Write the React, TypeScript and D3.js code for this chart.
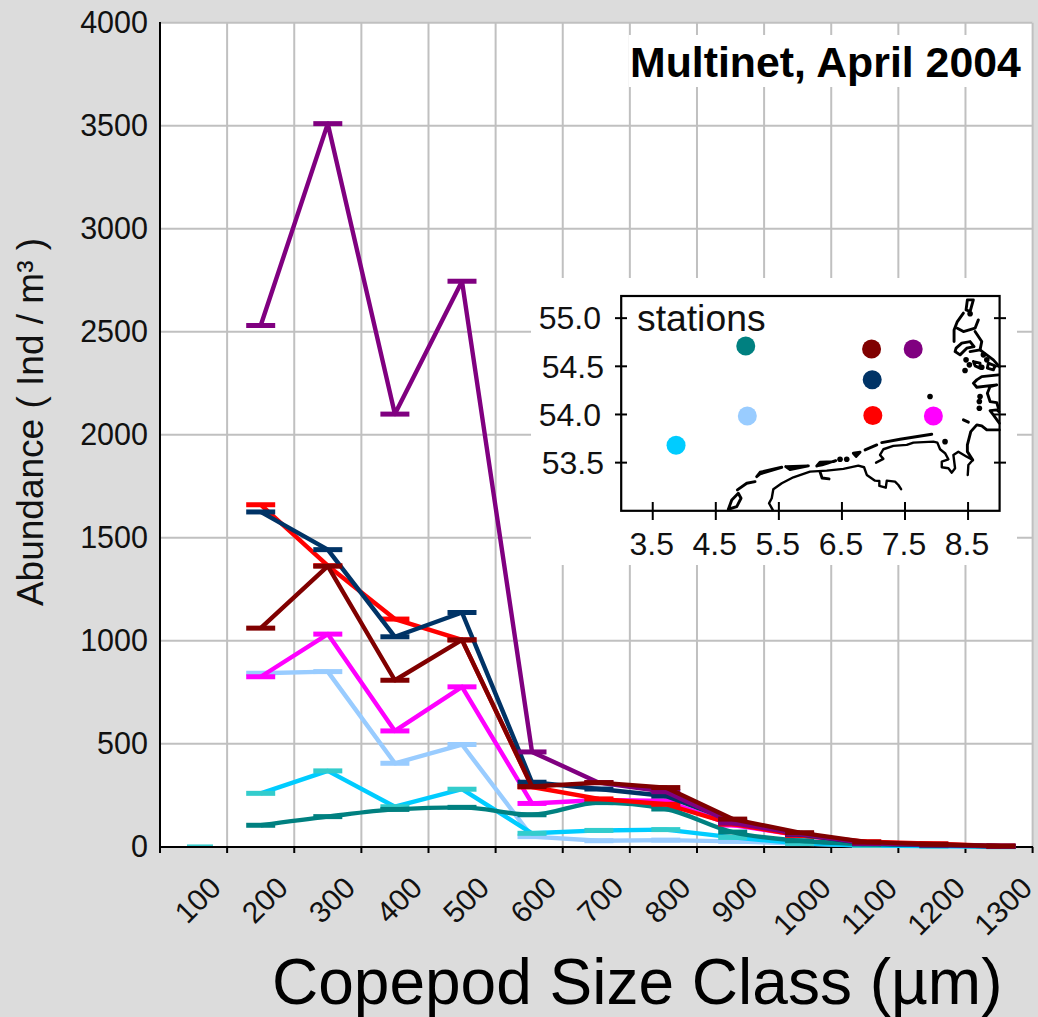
import React from "react";
import * as d3 from "d3";

const W = 1038, H = 1017;
const sizeClasses = ["100","200","300","400","500","600","700","800","900","1000","1100","1200","1300"];
const yTicks = [0,500,1000,1500,2000,2500,3000,3500,4000];

const lightBlue = [0,842,850,405,496,49,29,32,26,15,6,3,1];
const cyanS = [0,259,368,194,279,65,79,83,45,16,6,3,0];
const magentaS = [0,825,1032,562,776,210,227,222,105,55,18,8,2];
const tealS = [0,104,146,181,191,155,214,183,71,29,13,7,1];
const redS = [0,1660,1364,1105,1004,290,232,206,110,55,24,14,3];
const navyS = [0,1625,1442,1019,1137,313,280,246,125,60,15,8,2];
const purpleS = [0,2530,3510,2100,2745,460,311,267,115,62,16,9,2];
const maroonS = [0,1061,1362,808,1004,292,311,287,134,68,22,12,3];

const series = [
  { name: "lb", values: lightBlue, color: "#99CCFF", cap: "#99CCFF" },
  { name: "cy", values: cyanS, color: "#00CCFF", cap: "#33CCCC" },
  { name: "ma", values: magentaS, color: "#FF00FF", cap: "#FF00FF" },
  { name: "te", values: tealS, color: "#008080", cap: "#008080", smooth: true },
  { name: "re", values: redS, color: "#FF0000", cap: "#FF0000" },
  { name: "na", values: navyS, color: "#003366", cap: "#003366" },
  { name: "pu", values: purpleS, color: "#800080", cap: "#800080" },
  { name: "mr", values: maroonS, color: "#800000", cap: "#800000" },
];

const stationLon = [4.975,6.97,7.63,6.98,5.0,6.99,7.95,3.87];
const stationLat = [54.71,54.68,54.68,54.36,53.985,53.99,53.985,53.68];
const stationColor = ["#008080","#800000","#800080","#003366","#99CCFF","#FF0000","#FF00FF","#00CCFF"];
const lonTicks = [3.5,4.5,5.5,6.5,7.5,8.5];
const latTicks = [53.5,54.0,54.5,55.0];

type P = [number, number];
const coastLines: P[][] = [
  [[5.403,53.009],[5.344,53.078],[5.387,53.13],[5.412,53.224],[5.546,53.286],[5.73,53.348],[5.994,53.407],[6.259,53.417],[6.523,53.435],[6.76,53.469],[6.851,53.452],[6.894,53.372],[7.025,53.313],[7.093,53.31],[7.093,53.258],[7.195,53.24],[7.211,53.313],[7.342,53.303],[7.395,53.268],[7.438,53.224]],
  [[7.041,53.5],[7.157,53.539],[7.104,53.58],[7.157,53.639],[7.315,53.674],[7.528,53.684],[7.633,53.708],[7.95,53.718],[8.013,53.708],[8.056,53.639],[8.135,53.598],[8.188,53.535],[8.083,53.51],[8.083,53.452],[8.188,53.442],[8.242,53.396],[8.294,53.442],[8.267,53.58],[8.346,53.614],[8.479,53.562],[8.575,53.528],[8.505,53.476],[8.495,53.372]],
  [[8.575,53.528],[8.489,53.614],[8.489,53.684],[8.543,53.822],[8.638,53.892],[8.717,53.881],[8.797,53.84],[8.996,53.84]],
  [[8.996,53.909],[8.901,53.996],[8.849,54.04],[8.955,54.048],[8.99,54.03]],
  [[8.981,54.065],[8.955,54.123],[8.849,54.134],[8.806,54.221],[8.849,54.29],[8.955,54.307],[8.638,54.283],[8.584,54.325],[8.638,54.359],[8.717,54.393],[8.981,54.411]],
  [[8.489,55.19],[8.584,55.19],[8.532,55.069],[8.468,55.086],[8.489,55.19]],
  [[8.426,55.052],[8.33,54.965],[8.278,54.878],[8.278,54.757]],
  [[8.33,54.896],[8.426,54.861],[8.611,54.896],[8.663,54.982]],
  [[8.31,54.688],[8.4,54.74],[8.532,54.757],[8.595,54.705],[8.479,54.688],[8.373,54.619],[8.294,54.653],[8.31,54.688]],
  [[8.611,54.861],[8.717,54.757],[8.69,54.671],[8.532,54.653]],
  [[8.69,54.671],[8.901,54.567],[8.996,54.497]],
  [[8.584,54.549],[8.69,54.533],[8.69,54.481],[8.611,54.505],[8.584,54.549]],
  [[8.822,54.533],[8.928,54.505],[8.901,54.463],[8.806,54.481],[8.822,54.533]],
  [[4.699,53.016],[4.753,53.113],[4.857,53.182],[4.9,53.13],[4.832,53.043],[4.699,53.016]],
  [[4.842,53.217],[4.991,53.286],[5.122,53.303]],
  [[5.149,53.355],[5.202,53.4],[5.546,53.452],[5.202,53.383],[5.149,53.355]],
  [[5.609,53.459],[5.968,53.466],[5.677,53.429],[5.609,53.459]],
  [[6.101,53.466],[6.153,53.504],[6.364,53.51],[6.402,53.521],[6.185,53.477],[6.101,53.466]],
  [[6.681,53.598],[6.787,53.608],[6.724,53.565],[6.681,53.598]],
  [[6.867,53.632],[7.052,53.684]],
  [[7.131,53.708],[7.422,53.743],[7.924,53.795]],
  [[6.153,53.404],[6.185,53.341],[6.296,53.331]],
  [[8.426,53.944],[8.505,53.92]],
];
const coastDots: P[] = [
  [8.468,54.567],[8.452,54.456],[8.521,54.515],[8.743,54.619],[8.797,54.567],[8.717,54.491],
  [8.69,54.186],[8.679,54.134],[8.679,54.065],[7.897,54.186],[8.135,53.718],[6.47,53.535],[6.576,53.535],[8.532,55.045],
];

const band = d3.scaleBand<string>().domain(sizeClasses).range([160, 1032.6]).paddingInner(0).paddingOuter(0);
const yScale = d3.scaleLinear().domain([0, 4000]).range([846.7, 22.7]);
const lonScale = d3.scaleLinear().domain([3, 9]).range([621.2, 999.6]);
const latScale = d3.scaleLinear().domain([53, 55.23]).range([510.8, 296]);
// marks sit slightly off the band centres in the reference: piecewise scale over category index
const markX = d3.scaleLinear().domain([0, 1, 4, 5, 9, 12]).range([200, 260.7, 462, 532, 799.6, 1001]);
const bandCenter = (i: number) => (band(sizeClasses[i]) as number) + band.bandwidth() / 2;
const tickXs = [...sizeClasses.map((c) => band(c) as number), 1032.6];

const lineOf = d3.line<number>().x((_, i) => markX(i + 1)).y((v) => yScale(v));
const smoothOf = d3.line<number>().x((_, i) => markX(i + 1)).y((v) => yScale(v)).curve(d3.curveMonotoneX);
const coastPath = d3.line<P>().x((p) => lonScale(p[0])).y((p) => latScale(p[1]));

const grey = "#C0C0C0";
const font = "'Liberation Sans', Arial, sans-serif";

export default function App() {
  return (
    <svg width={W} height={H} viewBox={`0 0 ${W} ${H}`} style={{ position: "absolute", left: 0, top: 0, display: "block" }} fontFamily={font}>
      <rect width={W} height={H} fill="#DCDCDC" />
      <rect x={160} y={22} width={873} height={825} fill="#fff" />
      {yTicks.slice(1).map((t) => (
        <line key={t} x1={160} x2={1032.6} y1={yScale(t)} y2={yScale(t)} stroke={grey} strokeWidth={2} />
      ))}
      {tickXs.slice(1).map((x) => (
        <line key={x} x1={x} x2={x} y1={22.7} y2={846.7} stroke={grey} strokeWidth={2} />
      ))}
      {/* title box */}
      <rect x={629} y={35} width={392} height={52} fill="#fff" />
      <text x={630} y={77} fontSize={42.8} fontWeight={700}>Multinet, April 2004</text>

      {/* axes */}
      <line x1={160} x2={160} y1={22} y2={848} stroke="#000" strokeWidth={2} />
      <line x1={159} x2={1033} y1={847} y2={847} stroke="#000" strokeWidth={2} />
      {tickXs.map((x) => (
        <line key={x} x1={x} x2={x} y1={847} y2={853} stroke="#000" strokeWidth={2} />
      ))}

      {/* series */}
      {series.map((s) => (
        <g key={s.name}>
          <path d={(s.smooth ? smoothOf : lineOf)(s.values.slice(1)) as string} fill="none" stroke={s.color} strokeWidth={4.4} strokeLinejoin="round" />
          {s.values.map((v, i) => i === 0 ? null : (
            <line key={i} x1={markX(i) - 14.5} x2={markX(i) + 14.5} y1={yScale(v)} y2={yScale(v)} stroke={s.cap} strokeWidth={5} />
          ))}
        </g>
      ))}
      <line x1={markX(0) - 13} x2={markX(0) + 13} y1={yScale(cyanS[0]) - 1.5} y2={yScale(cyanS[0]) - 1.5} stroke="#33CCCC" strokeWidth={1.5} />

      {yTicks.map((t) => (
        <text key={t} x={148} y={yScale(t)} dy="0.35em" textAnchor="end" fontSize={30.5} fill="#111">{t}</text>
      ))}
      {sizeClasses.map((c, i) => (
        <text key={c} textAnchor="middle" fontSize={30} fill="#111"
          transform={`translate(${bandCenter(i) + 4},${c.length === 3 ? 900 : 906}) rotate(-45)`} dy="0.35em">{c}</text>
      ))}
      <text transform="translate(43,422) rotate(-90)" textAnchor="middle" fontSize={37} fill="#111">Abundance ( Ind / m³ )</text>
      <text x={272} y={1004} fontSize={64} fill="#000">Copepod Size Class (µm)</text>

      {/* inset */}
      <rect x={531} y={278} width={486} height={287} fill="#fff" />
      <rect x={621.2} y={296} width={378.4} height={214.8} fill="#fff" stroke="#000" strokeWidth={2.2} />
      {coastLines.map((c, i) => (
        <path key={i} d={coastPath(c) as string} fill="none" stroke="#000" strokeWidth={i < 2 ? 2.4 : 2.9} strokeLinejoin="round" strokeLinecap="round" />
      ))}
      {coastDots.map((p, i) => (
        <circle key={i} cx={lonScale(p[0])} cy={latScale(p[1])} r={2.8} fill="#000" />
      ))}
      {lonTicks.map((t) => (
        <g key={t}>
          <line x1={lonScale(t)} x2={lonScale(t)} y1={502} y2={520} stroke="#000" strokeWidth={2} />
          <text x={lonScale(t) - 1} y={555} textAnchor="middle" fontSize={32} fill="#111">{t.toFixed(1)}</text>
        </g>
      ))}
      {latTicks.map((t) => (
        <g key={t}>
          <line x1={615} x2={627} y1={latScale(t)} y2={latScale(t)} stroke="#000" strokeWidth={2} />
          <line x1={994} x2={1006} y1={latScale(t)} y2={latScale(t)} stroke="#000" strokeWidth={2} />
          <text x={t === 54.5 || t === 53.5 ? 604 : 601} y={latScale(t)} dy="0.35em" textAnchor="end" fontSize={32} fill="#111">{t.toFixed(1)}</text>
        </g>
      ))}
      <text x={637} y={331} fontSize={37.3} fill="#111">stations</text>
      {stationLon.map((lon, i) => (
        <circle key={i} cx={lonScale(lon)} cy={latScale(stationLat[i])} r={9.5} fill={stationColor[i]} />
      ))}
    </svg>
  );
}
